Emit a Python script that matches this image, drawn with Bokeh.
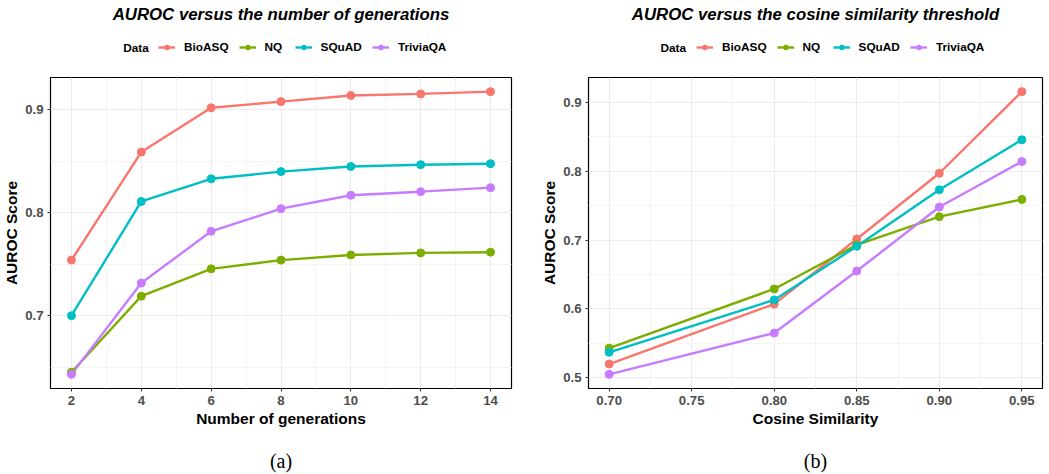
from bokeh.plotting import figure
from bokeh.models import Legend, LegendItem, Label, FixedTicker, PrintfTickFormatter, Range1d
from bokeh.layouts import row, column
from bokeh.embed import file_html
from bokeh.resources import INLINE

series = ["BioASQ", "NQ", "SQuAD", "TriviaQA"]
colors = ["#F8766D", "#7CAE00", "#00BFC4", "#C77CFF"]

generations = [2, 4, 6, 8, 10, 12, 14]
gen_bioasq = [0.754, 0.859, 0.902, 0.908, 0.914, 0.9155, 0.9177]
gen_nq = [0.645, 0.719, 0.7455, 0.754, 0.759, 0.761, 0.7617]
gen_squad = [0.700, 0.811, 0.833, 0.840, 0.845, 0.8467, 0.8477]
gen_triviaqa = [0.643, 0.7317, 0.782, 0.804, 0.817, 0.8205, 0.8244]

cosine = [0.70, 0.80, 0.85, 0.90, 0.95]
cos_bioasq = [0.520, 0.607, 0.7015, 0.797, 0.9155]
cos_nq = [0.543, 0.629, 0.693, 0.734, 0.759]
cos_squad = [0.537, 0.613, 0.691, 0.773, 0.8456]
cos_triviaqa = [0.505, 0.565, 0.655, 0.748, 0.814]

gen_xticks = [2, 4, 6, 8, 10, 12, 14]
gen_xminor = [3, 5, 7, 9, 11, 13]
gen_yticks = [0.7, 0.8, 0.9]
gen_yminor = [0.65, 0.75, 0.85]

cos_xticks = [0.70, 0.75, 0.80, 0.85, 0.90, 0.95]
cos_xminor = [0.725, 0.775, 0.825, 0.875, 0.925]
cos_yticks = [0.5, 0.6, 0.7, 0.8, 0.9]
cos_yminor = [0.55, 0.65, 0.75, 0.85]

legend_title = "Data"
SANS = "Liberation Sans"
HDR_H = 76
FTR_H = 34
PLOT_H = 474 - HDR_H - FTR_H
FRAME_BOTTOM = 388


def expand(vals):
    lo, hi = min(vals), max(vals)
    pad = 0.05 * (hi - lo)
    return Range1d(lo - pad, hi + pad)


def blank(width, height, bl, br):
    h = figure(width=width, height=height, output_backend="svg", toolbar_location=None,
               x_range=Range1d(bl, width - br), y_range=Range1d(0, height),
               x_axis_type=None, y_axis_type=None,
               min_border_left=bl, min_border_right=br, min_border_top=0, min_border_bottom=0)
    h.outline_line_color = None
    h.background_fill_color = "white"
    h.border_fill_color = "white"
    h.grid.visible = False
    return h


def header(title, width, bl, br, data_x, x, ys):
    h = blank(width, HDR_H, bl, br)
    center = bl + (width - bl - br) / 2.0
    h.add_layout(Label(x=center, y=HDR_H - 14, text=title, text_align="center",
                       text_baseline="middle", text_font=SANS, text_font_style="bold italic",
                       text_font_size="16.8px", text_color="black"))
    h.add_layout(Label(x=data_x, y=HDR_H - 47, text=legend_title, text_align="left",
                       text_baseline="middle", text_font=SANS, text_font_style="bold",
                       text_font_size="11.8px", text_color="black"))
    items = []
    for name, col, yv in zip(series, colors, ys):
        # invisible proxies: only their legend glyphs are shown
        ln = h.line(x=x, y=yv, line_color=col, line_width=2.4, visible=False)
        sc = h.scatter(x=x, y=yv, size=8, fill_color=col, line_color=col, visible=False)
        items.append(LegendItem(label=name, renderers=[ln, sc]))
    leg = Legend(items=items, orientation="horizontal", location=(108, HDR_H - 47 - 7))
    leg.label_text_font = SANS
    leg.label_text_font_style = "bold"
    leg.label_text_font_size = "11.8px"
    leg.label_text_color = "black"
    leg.label_height = 14
    leg.glyph_width = 17
    leg.glyph_height = 12
    leg.label_standoff = 9
    leg.spacing = 10
    leg.padding = 0
    leg.margin = 0
    leg.border_line_color = None
    leg.background_fill_alpha = 0
    leg.inactive_fill_alpha = 0
    leg.click_policy = "none"
    h.add_layout(leg, "center")
    return h


def footer(caption, width, bl, br):
    f = blank(width, FTR_H, bl, br)
    center = bl + (width - bl - br) / 2.0
    f.add_layout(Label(x=center, y=14, text=caption, text_align="center",
                       text_baseline="middle", text_font="Liberation Serif",
                       text_font_size="20px", text_color="black"))
    return f


def panel(x, ys, xlabel, xt, xm, yt, ym, xfmt, width, bl, br):
    ally = [v for s in ys for v in s]
    p = figure(width=width, height=PLOT_H, output_backend="svg", toolbar_location=None,
               x_range=expand(x), y_range=expand(ally),
               min_border_left=bl, min_border_right=br, min_border_top=1,
               min_border_bottom=HDR_H + PLOT_H - FRAME_BOTTOM)
    p.background_fill_color = "white"
    p.border_fill_color = "white"
    p.outline_line_color = "black"
    p.outline_line_width = 1.2

    p.xaxis.ticker = FixedTicker(ticks=xt, minor_ticks=xm)
    p.yaxis.ticker = FixedTicker(ticks=yt, minor_ticks=ym)
    p.xaxis.formatter = PrintfTickFormatter(format=xfmt)
    p.yaxis.formatter = PrintfTickFormatter(format="%.1f")
    for ax in (p.xaxis, p.yaxis):
        ax.axis_line_color = None
        ax.major_tick_line_color = "#333333"
        ax.major_tick_in = 0
        ax.major_tick_out = 3
        ax.minor_tick_line_color = None
        ax.major_label_text_font = SANS
        ax.major_label_text_font_style = "bold"
        ax.major_label_text_font_size = "13.2px"
        ax.major_label_text_color = "#4d4d4d"
        ax.major_label_standoff = 3
        ax.axis_label_text_font = SANS
        ax.axis_label_text_font_style = "bold"
        ax.axis_label_text_font_size = "15.5px"
        ax.axis_label_text_color = "black"
        ax.axis_label_standoff = 2
    p.xaxis.axis_label = xlabel
    p.yaxis.axis_label = "AUROC Score"

    for g in (p.xgrid, p.ygrid):
        g.grid_line_color = "#ebebeb"
        g.grid_line_width = 1.1
        g.minor_grid_line_color = "#f4f4f4"
        g.minor_grid_line_width = 1

    for col, yv in zip(colors, ys):
        p.line(x, yv, line_color=col, line_width=2.4)
    for col, yv in zip(colors, ys):
        p.scatter(x, yv, size=8, fill_color=col, line_color=col)
    return p


LW, RW = 525, 524
gen_series = [gen_bioasq, gen_nq, gen_squad, gen_triviaqa]
cos_series = [cos_bioasq, cos_nq, cos_squad, cos_triviaqa]
left = column(
    header("AUROC versus the number of generations", LW, 50, 14, 122.7, generations, gen_series),
    panel(generations, gen_series, "Number of generations",
          gen_xticks, gen_xminor, gen_yticks, gen_yminor, "%d", LW, 50, 14),
    footer("(a)", LW, 50, 14),
)
right = column(
    header("AUROC versus the cosine similarity threshold", RW, 63, 7, 135, cosine, cos_series),
    panel(cosine, cos_series, "Cosine Similarity",
          cos_xticks, cos_xminor, cos_yticks, cos_yminor, "%.2f", RW, 63, 7),
    footer("(b)", RW, 63, 7),
)

layout = row(left, right)
open("out.html", "w").write(file_html(layout, INLINE))
